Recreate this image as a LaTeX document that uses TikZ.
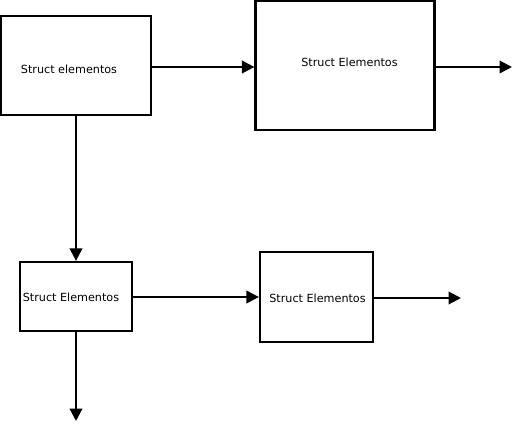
\documentclass[tikz,border=0pt]{standalone}
\usepackage{fontspec}
\setmainfont{DejaVu Sans}
\usetikzlibrary{arrows.meta}
\begin{document}
\begin{tikzpicture}[x=1pt,y=-1pt,
  box/.style={draw,line width=2.2pt,inner sep=0pt},
  lbl/.style={font=\fontsize{11.2}{13}\selectfont,inner sep=0pt,text=black},
  conn/.style={line width=2.2pt,-{Triangle[length=12.5pt,width=12.5pt]}}]
\useasboundingbox (0,0) rectangle (514,424);
\node[box,minimum width=150pt,minimum height=99pt] (b1) at (76,65.5) {};
\node[box,minimum width=179pt,minimum height=129pt] (b2) at (345,65.5) {};
\node[box,minimum width=112pt,minimum height=69pt] (b3) at (76,296.5) {};
\node[box,minimum width=113pt,minimum height=90pt] (b4) at (316.5,297) {};
\node[lbl] (t1) at (69,69) {Struct elementos};
\node[lbl] (t2) at (349.5,62) {Struct Elementos};
\node[lbl] (t3) at (71,297) {Struct Elementos};
\node[lbl] (t4) at (317.5,298) {Struct Elementos};
\coordinate (e2) at (512,67);
\coordinate (e4) at (461,298);
\coordinate (e3) at (76,421);
\draw[conn] (b1.east |- 0,67) -- (b2.west |- 0,67);
\draw[conn] (b2.east |- 0,67) -- (e2);
\draw[conn] (b1.south) -- (b3.north);
\draw[conn] (b3.east |- 0,297) -- (b4.west |- 0,297);
\draw[conn] (b4.east |- 0,298) -- (e4);
\draw[conn] (b3.south) -- (e3);
\end{tikzpicture}
\end{document}
